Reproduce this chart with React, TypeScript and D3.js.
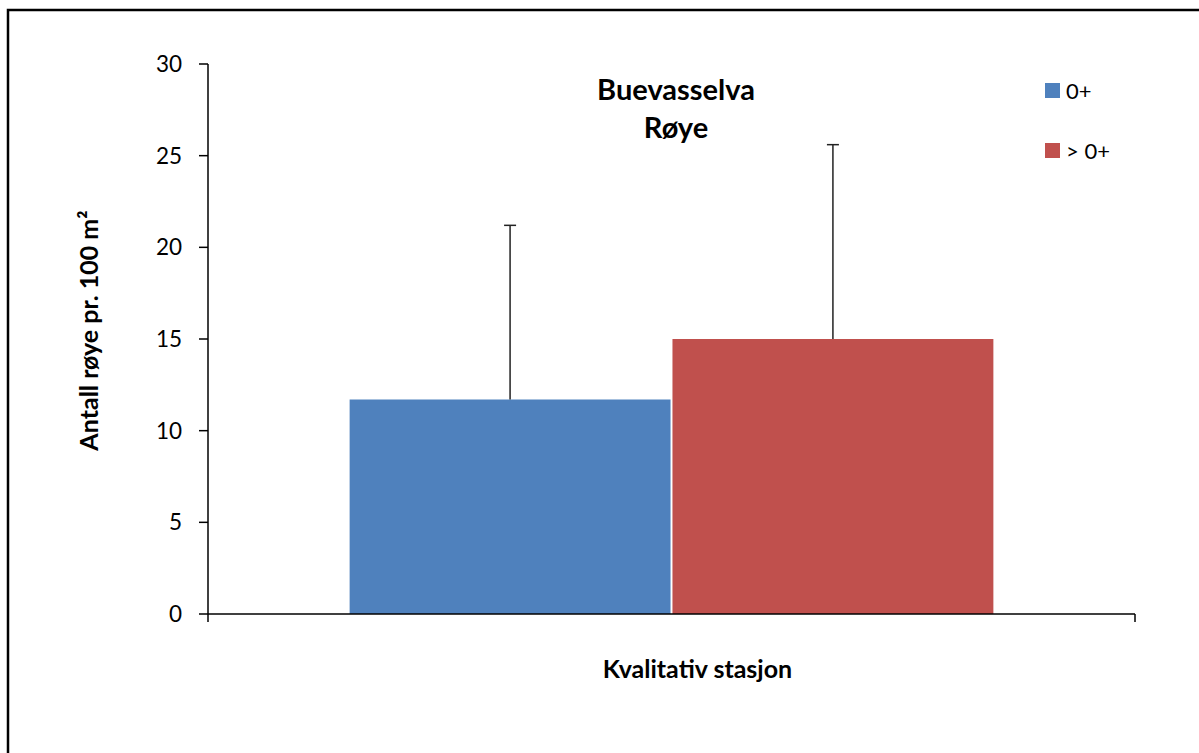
import React from "react";
import * as d3 from "d3";

const categories = ["Kvalitativ stasjon"];
const seriesNames = ["0+", "> 0+"];
const seriesValues = [11.7, 15.0];
const seriesErrors = [9.5, 10.6];
const seriesColors = ["#4F81BD", "#C0504D"];
const yTicks = [0, 5, 10, 15, 20, 25, 30];
const titleLines = ["Buevasselva", "Røye"];
const yTitle = "Antall røye pr. 100 m²";
const xTitle = "Kvalitativ stasjon";

const W = 1199;
const H = 753;
const plot = { left: 208, right: 1135, top: 64, bottom: 614 };
const FONT = "Lato, 'Open Sans', sans-serif";

export default function App() {
  const y = d3.scaleLinear().domain([0, 30]).range([plot.bottom, plot.top]);
  const x0 = d3.scaleBand().domain(categories).range([plot.left, plot.right]).paddingInner(0).paddingOuter(0.22);
  const x1 = d3.scaleBand().domain(seriesNames).range([0, x0.bandwidth()]).paddingInner(0.006);

  return (
    <svg width={W} height={H} style={{ position: "absolute", left: 0, top: 0, background: "#fff" }} fontFamily={FONT}>
      <rect x={0} y={0} width={W} height={H} fill="#fff" />
      <rect x={8} y={10} width={W + 50} height={H + 50} fill="none" stroke="#000" strokeWidth={2.5} />

      {categories.map((c) =>
        seriesNames.map((s, i) => {
          const bx = (x0(c) as number) + (x1(s) as number);
          const bw = x1.bandwidth();
          const v = seriesValues[i];
          const cx = bx + bw / 2;
          return (
            <g key={c + s}>
              <rect x={bx} y={y(v)} width={bw} height={y(0) - y(v)} fill={seriesColors[i]} />
              <line x1={cx} x2={cx} y1={y(v)} y2={y(v + seriesErrors[i])} stroke="#222" strokeWidth={1.5} />
              <line x1={cx - 6} x2={cx + 6} y1={y(v + seriesErrors[i])} y2={y(v + seriesErrors[i])} stroke="#222" strokeWidth={1.5} />
            </g>
          );
        })
      )}

      {/* y axis */}
      <line x1={plot.left} x2={plot.left} y1={plot.top} y2={plot.bottom + 8} stroke="#000" strokeWidth={1.5} />
      {yTicks.map((t) => (
        <g key={t}>
          <line x1={plot.left - 9} x2={plot.left} y1={y(t)} y2={y(t)} stroke="#000" strokeWidth={1.5} />
          <text x={plot.left - 26} y={y(t)} dy="0.36em" textAnchor="end" fontSize={22.5} fill="#000">
            {t}
          </text>
        </g>
      ))}

      {/* x axis */}
      <line x1={plot.left} x2={plot.right} y1={plot.bottom} y2={plot.bottom} stroke="#000" strokeWidth={1.5} />
      <line x1={plot.right} x2={plot.right} y1={plot.bottom} y2={plot.bottom + 8} stroke="#000" strokeWidth={1.5} />

      {/* titles */}
      <text x={676} y={100} textAnchor="middle" fontSize={29} fontWeight="bold">{titleLines[0]}</text>
      <text x={676} y={138} textAnchor="middle" fontSize={29} fontWeight="bold">{titleLines[1]}</text>

      <text x={697.5} y={678} textAnchor="middle" fontSize={25} fontWeight="bold">{xTitle}</text>
      <text transform={`translate(98, ${330.5}) rotate(-90)`} textAnchor="middle" fontSize={25} fontWeight="bold">{yTitle}</text>

      {/* legend */}
      {seriesNames.map((s, i) => (
        <g key={s} transform={`translate(1045, ${83 + i * 60})`}>
          <rect x={0} y={0} width={15} height={15} fill={seriesColors[i]} />
          <text x={21} y={8} dy="0.36em" fontSize={22}>{s}</text>
        </g>
      ))}
    </svg>
  );
}
